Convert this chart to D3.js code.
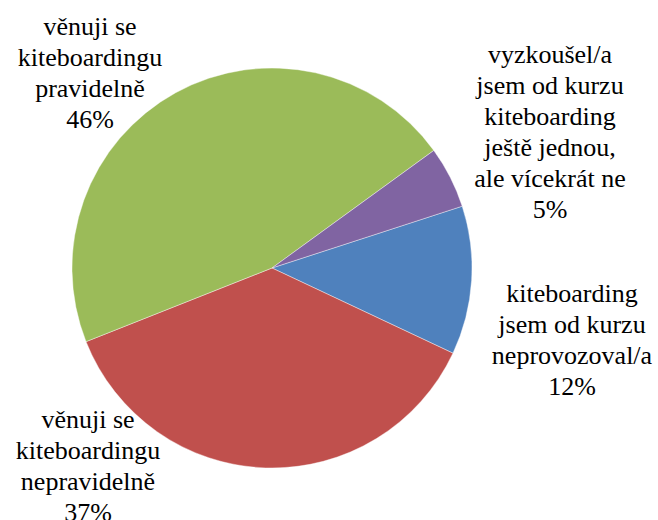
<!DOCTYPE html>
<html>
<head>
<meta charset="utf-8">
<script src="https://cdn.jsdelivr.net/npm/d3@7"></script>
<style>
html,body{margin:0;padding:0;background:#fff;}
svg text,svg tspan{font-family:"Liberation Serif","Times New Roman",serif !important;}
</style>
</head>
<body>
<script>
// data
var categories=["kiteboarding jsem od kurzu neprovozoval/a","věnuji se kiteboardingu nepravidelně","věnuji se kiteboardingu pravidelně","vyzkoušel/a jsem od kurzu kiteboarding ještě jednou, ale vícekrát ne"];
var values=[12,37,46,5];
var labelLines=[
	["kiteboarding","jsem od kurzu","neprovozoval/a"],
	["věnuji se","kiteboardingu","nepravidelně"],
	["věnuji se","kiteboardingu","pravidelně"],
	["vyzkoušel/a","jsem od kurzu","kiteboarding","ještě jednou,","ale vícekrát ne"]
];
var colors=["#4F81BD","#C0504D","#9BBB59","#8064A2"];

var W=658,H=520,cx=272,cy=268,R=200;
// where Excel put the labels (center x, first baseline)
var labelPos=[[572,302],[88,428],[90,35],[550,63]];
var lineH=31;

var svg=d3.select("body").append("svg")
	.attr("width",W)
	.attr("height",H);

var start=72*Math.PI/180;
var pie=d3.pie().sort(null).startAngle(start).endAngle(start+2*Math.PI);
var arc=d3.arc().innerRadius(0).outerRadius(R);
var total=d3.sum(values);

var g=svg.append("g").attr("transform","translate("+cx+","+cy+")");
g.selectAll("path")
	.data(pie(values))
	.enter()
	.append("path")
	.attr("d",arc)
	.attr("fill",(d,i)=>colors[i])
	.attr("stroke","#fff")
	.attr("stroke-width",0.4);

values.forEach(function(d,i){
	var t=svg.append("text")
		.attr("font-family","Liberation Serif")
		.style("font-family","'Liberation Serif', 'Times New Roman', serif","important")
		.attr("font-size",26)
		.attr("text-anchor","middle")
		.attr("x",labelPos[i][0])
		.attr("y",labelPos[i][1]);
	var lines=labelLines[i].concat([Math.round(d/total*100)+"%"]);
	lines.forEach(function(s,k){
		t.append("tspan")
		.style("font-family","'Liberation Serif', 'Times New Roman', serif","important")
		.attr("x",labelPos[i][0])
		.attr("dy",k==0?0:lineH)
		.text(s);
	});
});
</script>
</body>
</html>
